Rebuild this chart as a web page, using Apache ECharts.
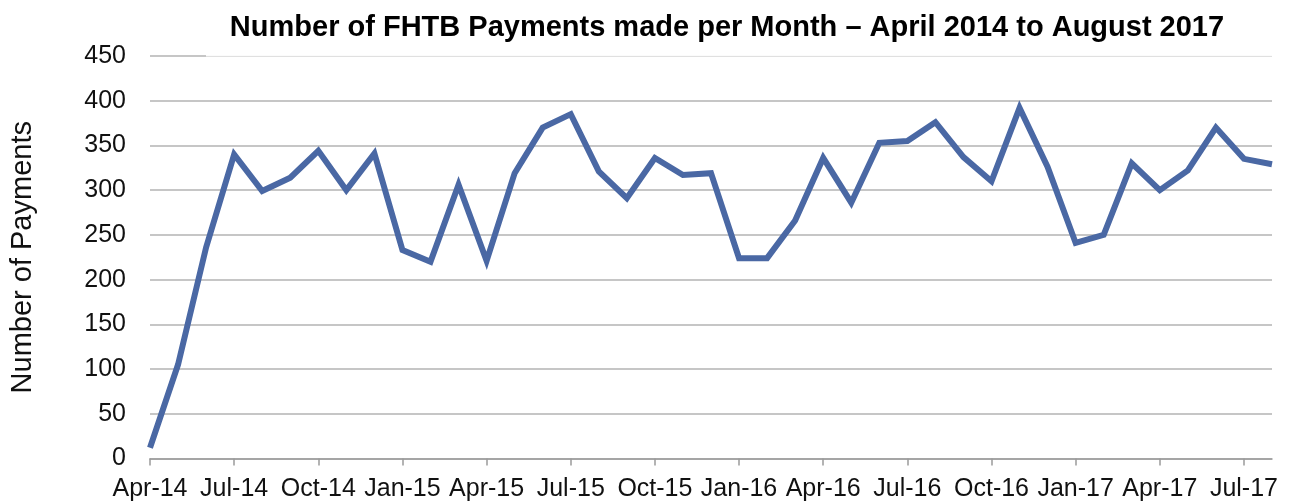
<!DOCTYPE html>
<html>
<head>
<meta charset="utf-8">
<script src="https://cdn.jsdelivr.net/npm/echarts@6/dist/echarts.min.js"></script>
<style>
  html, body { margin: 0; padding: 0; background: #fff; }
  #chart { width: 1289px; height: 502px; }
</style>
</head>
<body>
<div id="chart"></div>
<script>
// months Apr-14 .. Aug-17
const months = [
  "Apr-14", "May-14", "Jun-14", "Jul-14", "Aug-14", "Sep-14", "Oct-14", "Nov-14", "Dec-14",
  "Jan-15", "Feb-15", "Mar-15", "Apr-15", "May-15", "Jun-15", "Jul-15", "Aug-15", "Sep-15",
  "Oct-15", "Nov-15", "Dec-15", "Jan-16", "Feb-16", "Mar-16", "Apr-16", "May-16", "Jun-16",
  "Jul-16", "Aug-16", "Sep-16", "Oct-16", "Nov-16", "Dec-16", "Jan-17", "Feb-17", "Mar-17",
  "Apr-17", "May-17", "Jun-17", "Jul-17", "Aug-17"
];
const payments = [
  12, 105, 236, 340, 299, 314, 344, 300, 341,
  233, 220, 306, 221, 319, 370, 385, 321, 291,
  336, 317, 319, 224, 224, 266, 336, 286, 353,
  355, 376, 337, 310, 392, 326, 241, 250, 330,
  300, 322, 370, 335, 329
];
const yTicks = { min: 0, max: 450, step: 50 };

const myChart = echarts.init(document.getElementById("chart"));
const font = "'Liberation Sans', Arial, sans-serif";

const option = {
  animation: false,
  title: {
    text: "Number of FHTB Payments made per Month \u2013 April 2014 to August 2017",
    left: 727,
    textAlign: "center",
    top: 13,
    padding: 0,
    z: 20,
    textStyle: { fontFamily: font, fontSize: 29, fontWeight: "bold", color: "#000" },
  },
  // white box behind the title hides most of the 450 line, as in the original
  graphic: [
    {
      type: "rect",
      left: 206,
      top: 0,
      z: 10,
      shape: { width: 1080, height: 56.5 },
      style: { fill: "rgba(255,255,255,0.92)" },
    },
  ],
  grid: { left: 148, right: 17, top: 56, bottom: 43.5 },
  xAxis: {
    type: "category",
    data: months,
    boundaryGap: false,
    axisLine: { show: true, lineStyle: { color: "#9a9a9a", width: 1.5 } },
    axisTick: { show: true, interval: 2, length: 7, lineStyle: { color: "#9a9a9a", width: 1.5 } },
    axisLabel: {
      interval: 2,
      margin: 18,
      fontFamily: font,
      fontSize: 25,
      color: "#111",
    },
    splitLine: { show: false },
  },
  yAxis: {
    type: "value",
    min: yTicks.min,
    max: yTicks.max,
    interval: yTicks.step,
    name: "Number of Payments",
    nameLocation: "middle",
    nameGap: 113,
    nameTextStyle: { fontFamily: font, fontSize: 29, color: "#111" },
    axisLine: { show: false },
    axisTick: { show: false },
    axisLabel: { margin: 24, fontFamily: font, fontSize: 25, color: "#111" },
    splitLine: { show: true, lineStyle: { color: "#c6c6c6", width: 2 } },
  },
  series: [
    {
      name: "Payments",
      type: "line",
      data: payments,
      symbol: "none",
      lineStyle: { color: "#4a68a4", width: 6, join: "miter" },
      itemStyle: { color: "#4a68a4" },
      z: 3,
    },
  ],
};
myChart.setOption(option);
</script>
</body>
</html>
